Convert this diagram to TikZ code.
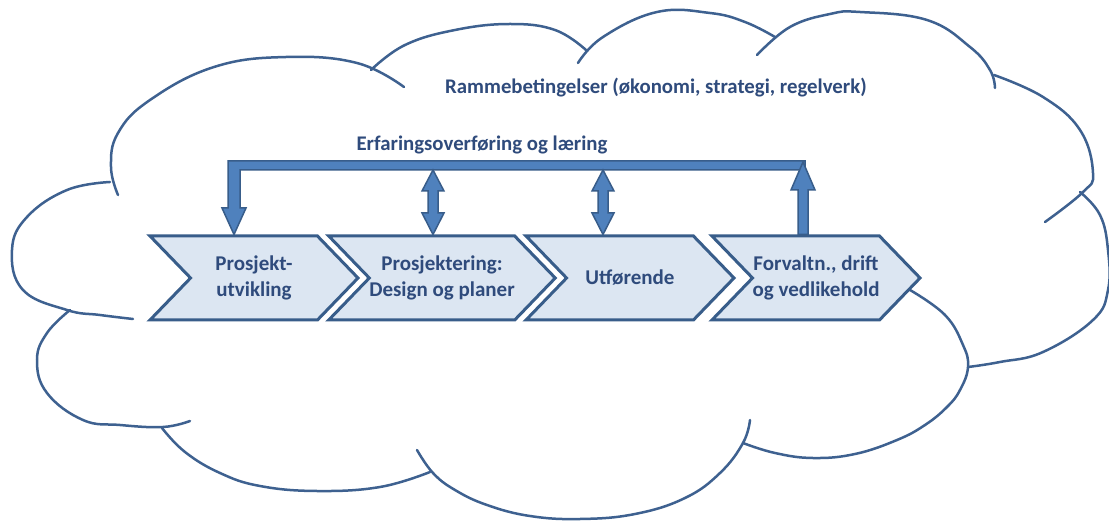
\documentclass[tikz,border=0pt]{standalone}
\usepackage{fontspec}
\setmainfont{Carlito}
\usetikzlibrary{shapes.symbols}
\definecolor{cloudline}{HTML}{3E6190}
\definecolor{chevfill}{HTML}{DCE6F2}
\definecolor{chevline}{HTML}{385D8A}
\definecolor{arrfill}{HTML}{4F81BD}
\definecolor{txt}{HTML}{2F4B7C}
\tikzset{
  cloudlobe/.style={draw=cloudline, line width=2.5pt, smooth, tension=0.7, line cap=round},
  chev/.style={signal, signal to=east, signal from=west, signal pointer angle=92,
    fill=chevfill, draw=chevline, line width=3pt, minimum width=208pt, minimum height=84pt,
    inner sep=0pt, align=center, text=txt, font=\bfseries\fontsize{21}{26}\selectfont},
  lbl/.style={text=txt, font=\bfseries\fontsize{20.8}{25}\selectfont, inner sep=0pt},
  blockarrow/.style={fill=arrfill, draw=chevline, line width=1.5pt, line join=miter}
}
\begin{document}
\begin{tikzpicture}[x=1pt,y=-1pt]
\useasboundingbox[fill=white] (0,0) rectangle (1109,521);
% cloud lobes
\draw[cloudlobe] plot coordinates {(118,195) (111,167) (118,133) (150,100) (214,67) (286,57) (357,63) (404,87)};
\draw[cloudlobe] plot coordinates {(371,70) (405,45) (455,30) (510,24) (555,30) (586,50)};
\draw[cloudlobe] plot coordinates {(578,63) (603,37) (657,12) (710,13) (745,22) (775,37)};
\draw[cloudlobe] plot coordinates {(757,55) (790,27) (830,14) (860,12) (927,20) (970,47) (990,70) (995,88)};
\draw[cloudlobe] plot coordinates {(994,75) (1043,97) (1080,130) (1093,173) (1083,192) (1045,222)};
\draw[cloudlobe] plot coordinates {(1080,192) (1100,215) (1108,250) (1108,290) (1093,320) (1043,352) (1000,362) (968,367)};
\draw[cloudlobe] plot coordinates {(910,290) (945,315) (963,345) (968,367) (960,390) (947,407) (925,425) (897,440) (855,454) (813,458) (775,453) (743,443)};
\draw[cloudlobe] plot coordinates {(750,420) (743,443) (720,473) (685,498) (635,514) (580,519) (530,516) (487,505) (455,490) (433,473) (417,450)};
\draw[cloudlobe] plot coordinates {(430,472) (380,487) (317,491) (260,486) (220,473) (185,452) (162,428)};
\draw[cloudlobe] plot coordinates {(190,421) (163,427) (120,425) (83,420) (47,393) (37,360) (47,333) (70,310)};
\draw[cloudlobe] plot coordinates {(133,319) (100,315) (67,310) (23,290) (12,250) (27,217) (67,190) (110,182)};
% texts
\node[lbl] (title) at (656,88) {Rammebetingelser (økonomi, strategi, regelverk)};
\node[lbl] (learn) at (482,145) {Erfaringsoverføring og læring};
% chevrons
\node[chev] (c1) at (254,278) {Prosjekt-\\utvikling};
\node[chev] (c2) at (442,278) {Prosjektering:\\Design og planer};
\node[chev] (c3) at (630,278) {Utførende};
\node[chev] (c4) at (816,278) {Forvaltn., drift\\og vedlikehold};
% feedback bar with down arrow to c1
\path[blockarrow] (228,161) -- (805,161) -- (805,170) -- (240,170) -- (240,208) -- (246,208)
  -- (234,0 |- c1.north) -- (222,208) -- (228,208) -- cycle;
% double arrows
\foreach \x/\n in {433/c2, 603/c3}{
  \path[blockarrow] (\x,170) -- (\x+11,191) -- (\x+5,191) -- (\x+5,213) -- (\x+11,213)
    -- (\x,0 |- \n.north) -- (\x-11,213) -- (\x-5,213) -- (\x-5,191) -- (\x-11,191) -- cycle;
}
% up arrow from c4
\path[blockarrow] (798,0 |- c4.north) -- (798,190) -- (791,190) -- (803,162) -- (815,190)
  -- (808,190) -- (808,0 |- c4.north) -- cycle;
\end{tikzpicture}
\end{document}
